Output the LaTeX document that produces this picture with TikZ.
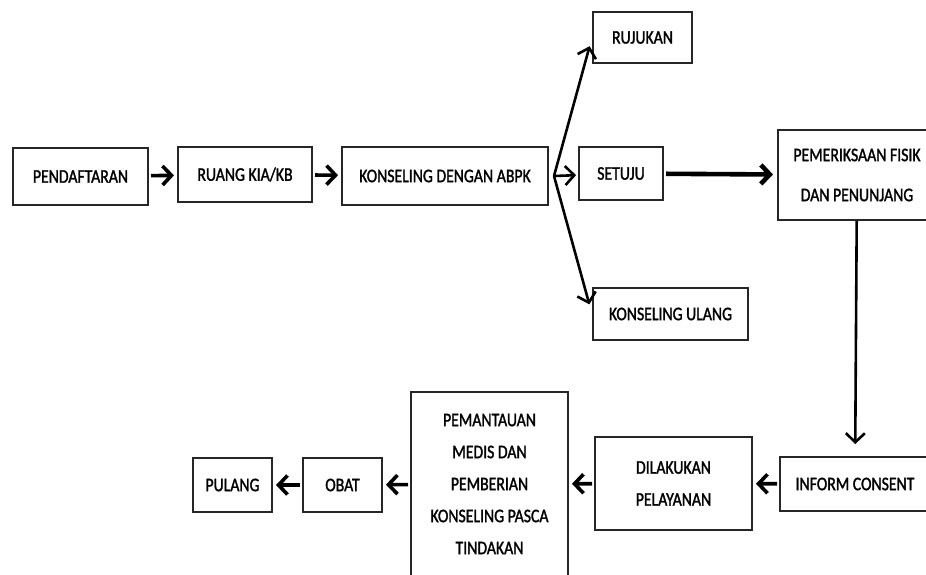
\documentclass[tikz,border=0pt]{standalone}
\usepackage{fontspec}
\setmainfont{Carlito}[FakeStretch=0.82,FakeBold=1.5]
\usetikzlibrary{arrows.meta}
\tikzset{>={Straight Barb[length=4.5pt,width=9.5pt]}}
\tikzset{box/.style={draw=black!85,line width=1pt,inner sep=0pt,align=center,
  font=\fontsize{9.6}{16}\selectfont}}
\tikzset{flow/.style={->,line width=1.8pt}}

\begin{document}
\begin{tikzpicture}[x=0.5pt,y=-0.5pt]
  \useasboundingbox (0,0) rectangle (926,574);
  \clip (0,0) rectangle (926,574);

  % Top row
  \node[box,minimum width=67.5pt,minimum height=28.5pt] (daftar) at (80.5,176.5) {PENDAFTARAN};
  \node[box,minimum width=67pt,minimum height=27.5pt] (ruang) at (245,174.5) {RUANG KIA/KB};
  \node[box,minimum width=103pt,minimum height=29pt] (abpk) at (445,176) {KONSELING DENGAN ABPK};
  \node[box,minimum width=49.5pt,minimum height=25.5pt] (rujukan) at (642.5,37.5) {RUJUKAN};
  \node[box,minimum width=42pt,minimum height=26.5pt] (setuju) at (621,173.5) {SETUJU};
  \node[box,minimum width=77.5pt,minimum height=26pt] (ulang) at (670.5,314) {KONSELING ULANG};
  \node[box,minimum width=79pt,minimum height=45pt,font=\fontsize{9.6}{20}\selectfont] (periksa) at (857,175) {PEMERIKSAAN FISIK\\DAN PENUNJANG};

  % Bottom row
  \node[box,minimum width=75pt,minimum height=27pt] (inform) at (855,484) {INFORM CONSENT};
  \node[box,minimum width=78.5pt,minimum height=46.5pt] (layan) at (673.5,483.5) {DILAKUKAN\\PELAYANAN};
  \node[box,minimum width=78.5pt,minimum height=92pt] (pantau) at (489.5,484) {PEMANTAUAN\\MEDIS DAN\\PEMBERIAN\\KONSELING PASCA\\TINDAKAN};
  \node[box,minimum width=39.5pt,minimum height=27pt] (obat) at (342.5,485) {OBAT};
  \node[box,minimum width=39.5pt,minimum height=27pt] (pulang) at (232.5,485) {PULANG};

  % Arrows
  \coordinate (fan) at ([xshift=2.5pt]abpk.east);
  \draw[flow,shorten <=1pt,shorten >=1.5pt] (daftar) -- (ruang);
  \draw[flow,shorten <=1pt,shorten >=1.5pt] (ruang) -- (abpk);
  \draw[flow,line width=1.3pt,shorten >=4.5pt] (fan) -- (rujukan.west);
  \draw[flow,line width=1.3pt,shorten >=1pt] (fan) -- (setuju);
  \draw[flow,line width=1.3pt,shorten >=5pt] (fan) -- (ulang.west);
  \draw[flow,line width=2.3pt,shorten <=1pt,shorten >=2pt] (setuju) -- (periksa);
  \draw[flow,line width=1.3pt,shorten >=6pt] (periksa) -- (inform);
  \draw[flow,shorten <=1pt,shorten >=1.5pt] (inform) -- (layan);
  \draw[flow,shorten <=1pt,shorten >=1.5pt] (layan) -- (pantau);
  \draw[flow,shorten <=1pt,shorten >=1.5pt] (pantau) -- (obat);
  \draw[flow,shorten <=1pt,shorten >=1.5pt] (obat) -- (pulang);
\end{tikzpicture}
\end{document}
